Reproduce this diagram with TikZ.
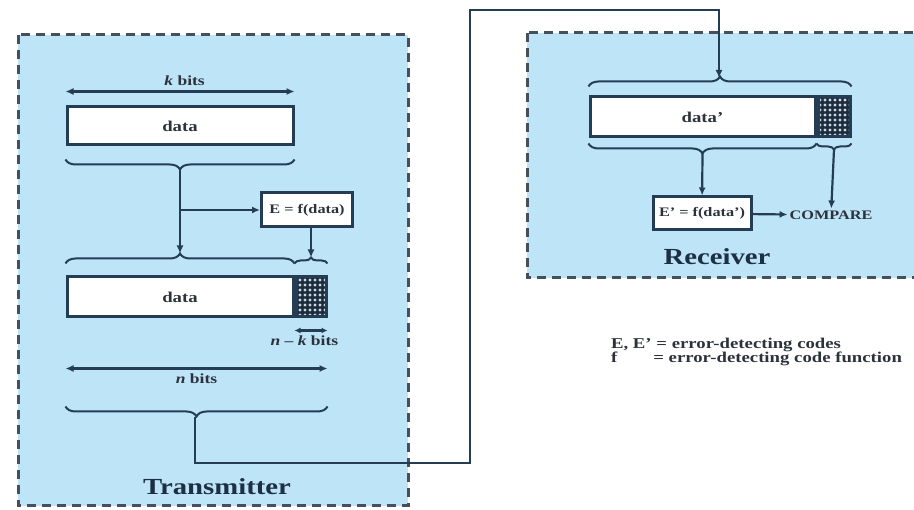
\documentclass[tikz,border=0pt]{standalone}
\usepackage{fontspec}
\setmainfont[FakeStretch=1.25]{Liberation Serif}
\usetikzlibrary{arrows.meta, positioning, decorations.pathreplacing, patterns.meta}
\definecolor{panel}{RGB}{190,228,248}
\definecolor{ink}{RGB}{36,60,84}
\definecolor{rim}{RGB}{70,80,92}
\definecolor{letter}{RGB}{44,50,60}

\begin{document}
\begin{tikzpicture}[x=1pt, y=1pt, >={Latex[length=8pt, width=7pt]}, line width=2.2pt, draw=ink, font=\bfseries, text=letter]
        \tikzstyle{panelbox} = [draw=rim, fill=panel, dash pattern=on 9pt off 6pt, line width=3pt]
        \tikzstyle{field} = [rectangle, draw=ink, fill=white, line width=3pt, inner sep=0pt, font=\fontsize{15}{15}\selectfont\bfseries]
        \tikzstyle{check} = [rectangle, draw=ink, line width=3pt, inner sep=0pt, preaction={fill=ink!75!black}, pattern={Dots[distance=5pt, radius=1.7pt]}, pattern color=white!80!ink]
        \tikzstyle{brace} = [decorate, decoration={brace, amplitude=10pt}, draw=ink, line width=2pt]
        \tikzstyle{smallbrace} = [decorate, decoration={brace, amplitude=6pt}, draw=ink, line width=2pt]
        \tikzstyle{title} = [font=\fontsize{23}{23}\selectfont\bfseries, text=ink!80!black]
        \tikzstyle{dim} = [font=\fontsize{14}{14}\selectfont\bfseries]

        \useasboundingbox (0,0) rectangle (914,-510);

        % panels
        \draw[panelbox] (18,-35) rectangle (408,-506);
        \draw[panelbox] (527,-33) rectangle (940,-278);

        % transmitter side
        \node[field, minimum width=226pt, minimum height=38pt] (data) at (180,-126) {data};
        \coordinate (kl) at ([yshift=14pt]data.north west);
        \coordinate (kr) at ([yshift=14pt]data.north east);
        \draw[<->] (kl) -- node[above=1pt, dim, pos=0.52] {\textit{k} bits} (kr);
        \draw[brace] ([yshift=-13pt]data.south east) -- ([yshift=-13pt]data.south west);
        \coordinate (tip1) at ([yshift=-23pt]data.south);

        \node[field, minimum width=91pt, minimum height=34pt, font=\fontsize{13}{13}\selectfont\bfseries] (code) at (307,-210) {E = f(data)};

        \node[field, minimum width=226pt, minimum height=40pt] (body) at (180,-297) {data};
        \node[check, minimum width=30pt, minimum height=40pt, right=0pt of body] (fcs) {};
        \draw[brace] ([yshift=12pt]body.north west) -- ([yshift=12pt]body.north east);
        \draw[smallbrace] ([yshift=12pt]fcs.north west) -- ([yshift=12pt]fcs.north east);
        \coordinate (tip2) at ([yshift=22pt]body.north);
        \coordinate (tip3) at ([yshift=18pt]fcs.north);
        \coordinate (split) at (tip1 |- code);

        \draw[->] (tip1) -- (tip2);
        \draw[->] (split) -- (code);
        \draw[->] (code.south -| tip3) -- (tip3);

        \coordinate (nkl) at ([yshift=-12pt]fcs.south west);
        \coordinate (nkr) at ([yshift=-12pt]fcs.south east);
        \draw[<->, >={Latex[length=6pt, width=6pt]}] (nkl) -- (nkr) node[below=1pt, dim, pos=0.3] {\textit{n} – \textit{k} bits};
        \coordinate (nl) at ([yshift=-50pt]body.south west);
        \coordinate (nr) at ([yshift=-50pt]fcs.south east);
        \draw[<->] (nl) -- node[below=1pt, dim, pos=0.5] {\textit{n} bits} (nr);
        \draw[brace] ([yshift=-88pt]fcs.south east) -- ([yshift=-88pt]body.south west);
        \coordinate (tip4) at (195,-417);

        \node[title] (tx) at (217,-487) {Transmitter};

        % receiver side
        \node[field, minimum width=225pt, minimum height=40pt] (rbody) at (702.5,-117) {data'};
        \node[check, minimum width=32pt, minimum height=40pt, right=0pt of rbody] (rfcs) {};
        \draw[brace] ([yshift=9pt]rbody.north west) -- ([yshift=9pt]rfcs.north east);
        \coordinate (rtip) at (719,-78);
        \draw[brace] ([yshift=-5pt]rbody.south east) -- ([yshift=-5pt]rbody.south west);
        \draw[smallbrace] ([yshift=-5pt]rfcs.south east) -- ([yshift=-5pt]rfcs.south west);
        \coordinate (rtip1) at ([yshift=-15pt]rbody.south);
        \coordinate (rtip2) at ([yshift=-11pt]rfcs.south);

        \node[field, minimum width=98pt, minimum height=33pt, font=\fontsize{13}{13}\selectfont\bfseries] (rcode) at (702,-213.5) {E' = f(data')};
        \node[font=\fontsize{13}{13}\selectfont\bfseries, inner sep=1pt] (compare) at (831,-215) {COMPARE};
        \draw[->] (rtip1) -- (rcode);
        \draw[->] (rtip2) -- (compare);
        \draw[->] (rcode) -- (compare);

        \node[title] (rx) at (717,-257) {Receiver};

        % link between the two
        \coordinate (hop1) at (470,-463);
        \coordinate (hop2) at (470,-10);
        \draw[->] (tip4) |- (hop1) -- (hop2) -| (rtip);

        % legend
        \node[anchor=west, align=left, inner sep=0pt, font=\fontsize{15}{13}\selectfont\bfseries] (legend) at (610,-352)
            {E, E' = error-detecting codes\\ f\hspace{36pt}= error-detecting code function};
    \end{tikzpicture}
\end{document}
